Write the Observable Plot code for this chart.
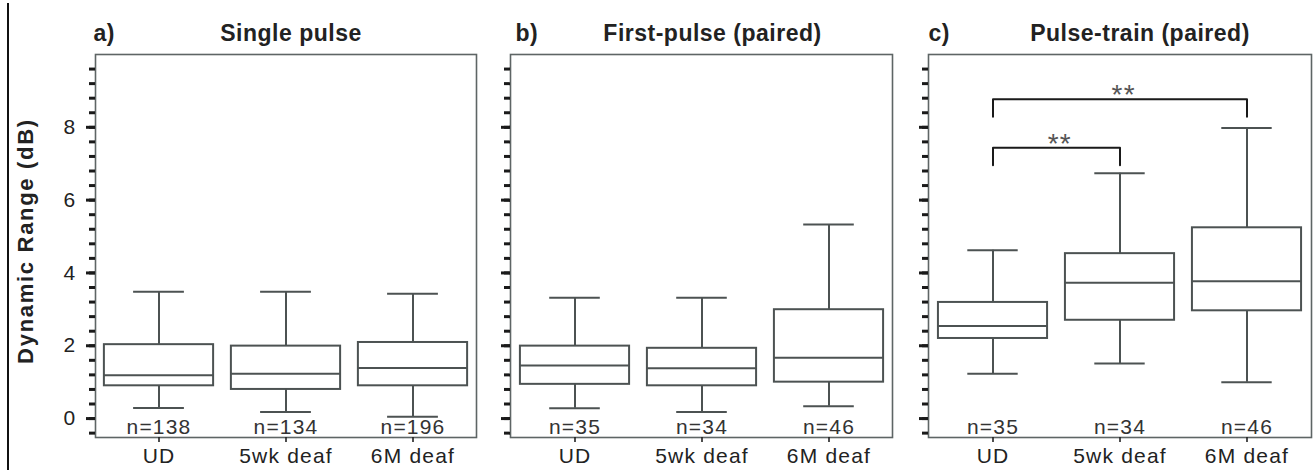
<!DOCTYPE html>
<html><head><meta charset="utf-8">
<script src="https://cdn.jsdelivr.net/npm/d3@7"></script>
<script src="https://cdn.jsdelivr.net/npm/@observablehq/plot@0.6"></script>
<style>
html,body{margin:0;padding:0;background:#fff;width:1316px;height:475px;overflow:hidden;}
body{position:relative;}
.panel{position:absolute;top:0;}
.panel svg text{letter-spacing:1.2px;}
#edge{position:absolute;left:7px;top:3px;width:1.5px;height:467px;background:#111;}
</style></head><body>
<div id="edge"></div>
<div id="pa" class="panel" style="left:0px"></div>
<div id="pb" class="panel" style="left:490px"></div>
<div id="pc" class="panel" style="left:906px"></div>
<script>
// ---- data ----
const groups = ["UD", "5wk deaf", "6M deaf"];
const panelLetters = ["a)", "b)", "c)"];
const panelTitles = ["Single pulse", "First-pulse (paired)", "Pulse-train (paired)"];
const yTitle = "Dynamic Range (dB)";
const majorTicks = [0, 2, 4, 6, 8];
const minorTicks = [-0.4, 0, 0.4, 0.8, 1.2, 1.6, 2, 2.4, 2.8, 3.2, 3.6, 4, 4.4, 4.8, 5.2, 5.6, 6, 6.4, 6.8, 7.2, 7.6, 8, 8.4, 8.8, 9.2, 9.6];

// a) Single pulse
const singleLo  = [0.29, 0.18, 0.05];
const singleQ1  = [0.90, 0.80, 0.90];
const singleMed = [1.19, 1.23, 1.39];
const singleQ3  = [2.03, 1.99, 2.09];
const singleHi  = [3.48, 3.48, 3.43];
const singleN   = [138, 134, 196];

// b) First-pulse (paired)
const firstLo  = [0.28, 0.18, 0.34];
const firstQ1  = [0.94, 0.90, 1.00];
const firstMed = [1.46, 1.38, 1.67];
const firstQ3  = [1.99, 1.93, 2.99];
const firstHi  = [3.32, 3.32, 5.33];
const firstN   = [35, 34, 46];

// c) Pulse-train (paired)
const trainLo  = [1.23, 1.51, 1.00];
const trainQ1  = [2.20, 2.70, 2.96];
const trainMed = [2.54, 3.73, 3.77];
const trainQ3  = [3.19, 4.53, 5.24];
const trainHi  = [4.62, 6.74, 7.98];
const trainN   = [35, 34, 46];

// significance brackets (panel c)
const bracketFrom   = ["UD", "UD"];
const bracketTo     = ["5wk deaf", "6M deaf"];
const bracketTop    = [7.44, 8.77];
const bracketBottom = [6.96, 8.29];
const bracketText   = ["**", "**"];

// ---- drawing ----
const FONT = "Liberation Sans, Arial, Helvetica, sans-serif";
const boxColor = "#4c5252";
const frameColor = "#5e6565";

function makePanel(el, cfg) {
  const {width, mLeft, mRight, letter, title, titleDx, letterDx, lo, q1, med, q3, hi, n, showY, brackets} = cfg;
  const rows = groups.map((g, i) => ({group: g, lo: lo[i], q1: q1[i], med: med[i], q3: q3[i], hi: hi[i], n: "n=" + n[i]}));
  const frameW = width - mLeft - mRight;
  const band = frameW / groups.length;
  const boxInset = band * 0.07;
  const capInset = band * 0.30;
  const marks = [
    Plot.frame({stroke: frameColor, strokeWidth: 1.6}),
    Plot.axisY({ticks: minorTicks, tickSize: 6, strokeWidth: 3, stroke: "#1a1a1a", tickFormat: () => "", label: null}),
    Plot.axisY({ticks: majorTicks, tickSize: 9, strokeWidth: 3, stroke: "#1a1a1a", tickPadding: 10, fontSize: 21, color: "#222",
      tickFormat: showY ? (d) => String(d) : () => "", label: null}),
    Plot.axisX({tickSize: 5, tickPadding: 6, fontSize: 21, strokeWidth: 1.6, color: "#222", label: null}),
    Plot.ruleX(rows, {x: "group", y1: "q3", y2: "hi", stroke: boxColor, strokeWidth: 2}),
    Plot.ruleX(rows, {x: "group", y1: "lo", y2: "q1", stroke: boxColor, strokeWidth: 2}),
    Plot.tickY(rows, {x: "group", y: "hi", stroke: boxColor, strokeWidth: 2, insetLeft: capInset, insetRight: capInset}),
    Plot.tickY(rows, {x: "group", y: "lo", stroke: boxColor, strokeWidth: 2, insetLeft: capInset, insetRight: capInset}),
    Plot.barY(rows, {x: "group", y1: "q1", y2: "q3", fill: "white", stroke: boxColor, strokeWidth: 2, insetLeft: boxInset, insetRight: boxInset}),
    Plot.tickY(rows, {x: "group", y: "med", stroke: boxColor, strokeWidth: 2, insetLeft: boxInset, insetRight: boxInset}),
    Plot.text(rows, {x: "group", text: "n", frameAnchor: "bottom", lineAnchor: "middle", dy: -10, fontSize: 21, fill: "#333"}),
    Plot.text([letter], {text: d => d, frameAnchor: "top-left", textAnchor: "start", lineAnchor: "middle", dx: letterDx, dy: -21, fontSize: 23, fontWeight: "bold", fill: "#222"}),
    Plot.text([title], {text: d => d, frameAnchor: "top", lineAnchor: "middle", dx: titleDx, dy: -21, fontSize: 23, fontWeight: "bold", fill: "#222"})
  ];
  if (showY) {
    marks.push(Plot.text([yTitle], {text: d => d, frameAnchor: "left", textAnchor: "middle", lineAnchor: "middle", rotate: -90, dx: -70, dy: -5, fontSize: 22, fontWeight: "bold", fill: "#222"}));
  }
  if (brackets) {
    const pts = [];
    const stars = [];
    brackets.from.forEach((f, i) => {
      const t = brackets.to[i];
      pts.push({id: i, x: f, y: brackets.bottom[i]}, {id: i, x: f, y: brackets.top[i]},
               {id: i, x: t, y: brackets.top[i]}, {id: i, x: t, y: brackets.bottom[i]});
      const span = groups.indexOf(t) - groups.indexOf(f);
      stars.push({x: f, y: brackets.top[i], text: brackets.text[i], dx: span * band / 2});
    });
    marks.push(Plot.line(pts, {x: "x", y: "y", z: "id", stroke: "#1a1a1a", strokeWidth: 2}));
    stars.forEach(s => marks.push(Plot.text([s], {x: "x", y: "y", text: "text", lineAnchor: "middle", dx: s.dx + 3, dy: -4, fontSize: 28, fill: "#555"})));
  }
  const svg = Plot.plot({
    width, height: 475,
    marginLeft: mLeft, marginRight: mRight, marginTop: 54, marginBottom: 38,
    x: {type: "band", domain: groups, padding: 0},
    y: {domain: [-0.52, 10.0]},
    style: {fontFamily: FONT, background: "transparent", overflow: "visible", color: "#222"},
    marks
  });
  svg.querySelectorAll("text").forEach(t => {
    if (t.textContent === yTitle) t.style.letterSpacing = "1.7px";
    else if (t.closest("[font-weight=bold]") || t.getAttribute("font-weight") === "bold") t.style.letterSpacing = "0.5px";
  });
  document.getElementById(el).appendChild(svg);
}

makePanel("pa", {width: 490, mLeft: 95, mRight: 14, letter: panelLetters[0], title: panelTitles[0], titleDx: 5, letterDx: -2,
  lo: singleLo, q1: singleQ1, med: singleMed, q3: singleQ3, hi: singleHi, n: singleN, showY: true});
makePanel("pb", {width: 416, mLeft: 20, mRight: 14, letter: panelLetters[1], title: panelTitles[1], titleDx: 11, letterDx: 5,
  lo: firstLo, q1: firstQ1, med: firstMed, q3: firstQ3, hi: firstHi, n: firstN, showY: false});
makePanel("pc", {width: 410, mLeft: 22, mRight: 5, letter: panelLetters[2], title: panelTitles[2], titleDx: 20, letterDx: 0,
  lo: trainLo, q1: trainQ1, med: trainMed, q3: trainQ3, hi: trainHi, n: trainN, showY: false,
  brackets: {from: bracketFrom, to: bracketTo, top: bracketTop, bottom: bracketBottom, text: bracketText}});
</script>
</body></html>
